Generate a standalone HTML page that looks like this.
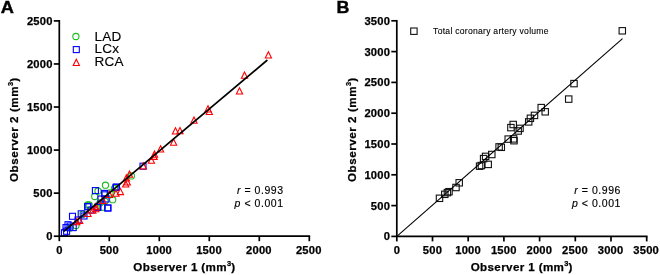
<!DOCTYPE html>
<html lang="en"><head><meta charset="utf-8"><title>Interobserver agreement</title>
<style>
html,body{margin:0;padding:0;background:#fff;}
body{width:660px;height:275px;overflow:hidden;}
svg{display:block;}
text{font-family:'Liberation Sans',Arial,Helvetica,sans-serif;fill:#000;}
.pl{font-size:17.2px;font-weight:bold;stroke:#000;stroke-width:0.4px;}
.tk{font-size:11.2px;font-weight:bold;letter-spacing:0.2px;stroke:#000;stroke-width:0.25px;}
.tt{font-size:11.6px;font-weight:bold;letter-spacing:0.38px;stroke:#000;stroke-width:0.25px;}
.ty{letter-spacing:0.55px;}
.sup{font-size:7.4px;}
.lg{font-size:13.5px;letter-spacing:0.2px;stroke:#000;stroke-width:0.15px;}
.st{font-size:10.5px;letter-spacing:0.55px;stroke:#000;stroke-width:0.15px;}
.lb{font-size:8.6px;letter-spacing:0.26px;stroke:#000;stroke-width:0.1px;}
.m{fill:none;stroke-width:1.1;}
</style></head><body>
<svg width="660" height="275" viewBox="0 0 660 275">
<rect width="660" height="275" fill="#fff"/>
<text transform="translate(0.85 13.3) scale(1.06 1)" class="pl">A</text>
<text transform="translate(336.6 13.1) scale(1.04 1)" class="pl">B</text>
<circle cx="105.5" cy="185.2" r="3.1" class="m" stroke="#1cc01c"/>
<circle cx="131.4" cy="175.9" r="3.1" class="m" stroke="#1cc01c"/>
<circle cx="114.5" cy="188.5" r="3.1" class="m" stroke="#1cc01c"/>
<circle cx="98.0" cy="191.0" r="3.1" class="m" stroke="#1cc01c"/>
<circle cx="94.7" cy="196.5" r="3.1" class="m" stroke="#1cc01c"/>
<circle cx="112.7" cy="199.7" r="3.1" class="m" stroke="#1cc01c"/>
<circle cx="105.0" cy="201.4" r="3.1" class="m" stroke="#1cc01c"/>
<circle cx="87.6" cy="205.0" r="3.1" class="m" stroke="#1cc01c"/>
<circle cx="76.0" cy="225.5" r="3.1" class="m" stroke="#1cc01c"/>
<circle cx="89.2" cy="205.0" r="3.1" class="m" stroke="#1cc01c"/>
<circle cx="102.3" cy="207.3" r="3.1" class="m" stroke="#1cc01c"/>
<circle cx="110.0" cy="193.0" r="3.1" class="m" stroke="#1cc01c"/>
<circle cx="100.0" cy="203.0" r="3.1" class="m" stroke="#1cc01c"/>
<circle cx="83.0" cy="214.0" r="3.1" class="m" stroke="#1cc01c"/>
<circle cx="70.0" cy="228.0" r="3.1" class="m" stroke="#1cc01c"/>
<rect x="140.0" y="163.2" width="6.0" height="6.0" class="m" stroke="#00f" stroke-width="1.1"/>
<rect x="112.9" y="184.4" width="6.0" height="6.0" class="m" stroke="#00f" stroke-width="1.1"/>
<rect x="92.4" y="187.6" width="6.0" height="6.0" class="m" stroke="#00f" stroke-width="1.1"/>
<rect x="101.6" y="190.4" width="6.0" height="6.0" class="m" stroke="#00f" stroke-width="1.1"/>
<rect x="102.0" y="191.8" width="6.0" height="6.0" class="m" stroke="#00f" stroke-width="1.1"/>
<rect x="103.0" y="196.0" width="6.0" height="6.0" class="m" stroke="#00f" stroke-width="1.1"/>
<rect x="105.0" y="205.0" width="6.0" height="6.0" class="m" stroke="#00f" stroke-width="1.1"/>
<rect x="85.0" y="203.8" width="6.0" height="6.0" class="m" stroke="#00f" stroke-width="1.1"/>
<rect x="94.5" y="204.4" width="6.0" height="6.0" class="m" stroke="#00f" stroke-width="1.1"/>
<rect x="113.5" y="184.0" width="6.0" height="6.0" class="m" stroke="#00f" stroke-width="1.1"/>
<rect x="61.5" y="229.7" width="6.0" height="6.0" class="m" stroke="#00f" stroke-width="1.1"/>
<rect x="63.6" y="228.3" width="6.0" height="6.0" class="m" stroke="#00f" stroke-width="1.1"/>
<rect x="63.0" y="224.6" width="6.0" height="6.0" class="m" stroke="#00f" stroke-width="1.1"/>
<rect x="65.0" y="221.7" width="6.0" height="6.0" class="m" stroke="#00f" stroke-width="1.1"/>
<rect x="69.5" y="213.3" width="6.0" height="6.0" class="m" stroke="#00f" stroke-width="1.1"/>
<rect x="70.2" y="224.6" width="6.0" height="6.0" class="m" stroke="#00f" stroke-width="1.1"/>
<rect x="78.2" y="210.8" width="6.0" height="6.0" class="m" stroke="#00f" stroke-width="1.1"/>
<rect x="81.0" y="213.0" width="6.0" height="6.0" class="m" stroke="#00f" stroke-width="1.1"/>
<rect x="84.7" y="203.5" width="6.0" height="6.0" class="m" stroke="#00f" stroke-width="1.1"/>
<rect x="95.0" y="204.0" width="6.0" height="6.0" class="m" stroke="#00f" stroke-width="1.1"/>
<rect x="104.7" y="205.0" width="6.0" height="6.0" class="m" stroke="#00f" stroke-width="1.1"/>
<rect x="75.0" y="217.0" width="6.0" height="6.0" class="m" stroke="#00f" stroke-width="1.1"/>
<rect x="88.0" y="207.0" width="6.0" height="6.0" class="m" stroke="#00f" stroke-width="1.1"/>
<rect x="98.0" y="196.0" width="6.0" height="6.0" class="m" stroke="#00f" stroke-width="1.1"/>
<rect x="67.0" y="223.0" width="6.0" height="6.0" class="m" stroke="#00f" stroke-width="1.1"/>
<path d="M268.4 51.8L271.5 58.0H265.3Z" class="m" stroke="#f00"/>
<path d="M244.5 72.0L247.6 78.2H241.4Z" class="m" stroke="#f00"/>
<path d="M239.5 87.8L242.6 94.0H236.4Z" class="m" stroke="#f00"/>
<path d="M208.0 105.8L211.1 112.0H204.9Z" class="m" stroke="#f00"/>
<path d="M209.3 108.3L212.4 114.5H206.2Z" class="m" stroke="#f00"/>
<path d="M194.0 117.1L197.1 123.3H190.9Z" class="m" stroke="#f00"/>
<path d="M175.5 127.8L178.6 134.0H172.4Z" class="m" stroke="#f00"/>
<path d="M180.0 127.6L183.1 133.8H176.9Z" class="m" stroke="#f00"/>
<path d="M173.6 139.1L176.7 145.3H170.5Z" class="m" stroke="#f00"/>
<path d="M160.6 145.8L163.7 152.0H157.5Z" class="m" stroke="#f00"/>
<path d="M154.5 151.1L157.6 157.3H151.4Z" class="m" stroke="#f00"/>
<path d="M154.1 153.2L157.2 159.4H151.0Z" class="m" stroke="#f00"/>
<path d="M151.4 157.1L154.5 163.3H148.3Z" class="m" stroke="#f00"/>
<path d="M143.3 162.8L146.4 169.0H140.2Z" class="m" stroke="#f00"/>
<path d="M129.5 171.1L132.6 177.3H126.4Z" class="m" stroke="#f00"/>
<path d="M126.4 174.8L129.5 181.0H123.3Z" class="m" stroke="#f00"/>
<path d="M127.3 178.8L130.4 185.0H124.2Z" class="m" stroke="#f00"/>
<path d="M125.7 180.8L128.8 187.0H122.6Z" class="m" stroke="#f00"/>
<path d="M120.4 188.4L123.5 194.6H117.3Z" class="m" stroke="#f00"/>
<path d="M116.0 190.1L119.1 196.3H112.9Z" class="m" stroke="#f00"/>
<path d="M109.5 191.3L112.6 197.5H106.4Z" class="m" stroke="#f00"/>
<path d="M95.8 203.4L98.9 209.6H92.7Z" class="m" stroke="#f00"/>
<path d="M79.7 217.2L82.8 223.4H76.6Z" class="m" stroke="#f00"/>
<path d="M92.8 207.0L95.9 213.2H89.7Z" class="m" stroke="#f00"/>
<path d="M95.7 205.5L98.8 211.7H92.6Z" class="m" stroke="#f00"/>
<path d="M76.8 218.6L79.9 224.8H73.7Z" class="m" stroke="#f00"/>
<path d="M103.0 197.3L106.1 203.5H99.9Z" class="m" stroke="#f00"/>
<path d="M88.0 210.3L91.1 216.5H84.9Z" class="m" stroke="#f00"/>
<path d="M63.7 231.3L267.4 60" stroke="#000" stroke-width="1.7"/>
<path d="M59.3 20.049999999999997V236.2H310.15000000000003" fill="none" stroke="#000" stroke-width="1.7" stroke-linecap="butt" stroke-linejoin="miter"/>
<path d="M59.30 236.2v5" stroke="#000" stroke-width="1.7"/>
<text x="59.40" y="253.65" text-anchor="middle" class="tk">0</text>
<path d="M109.30 236.2v5" stroke="#000" stroke-width="1.7"/>
<text x="109.28" y="253.65" text-anchor="middle" class="tk">500</text>
<path d="M159.30 236.2v5" stroke="#000" stroke-width="1.7"/>
<text x="159.16" y="253.65" text-anchor="middle" class="tk">1000</text>
<path d="M209.30 236.2v5" stroke="#000" stroke-width="1.7"/>
<text x="209.04" y="253.65" text-anchor="middle" class="tk">1500</text>
<path d="M259.30 236.2v5" stroke="#000" stroke-width="1.7"/>
<text x="258.92" y="253.65" text-anchor="middle" class="tk">2000</text>
<path d="M309.30 236.2v5" stroke="#000" stroke-width="1.7"/>
<text x="308.80" y="253.65" text-anchor="middle" class="tk">2500</text>
<path d="M59.3 236.20h-5.5" stroke="#000" stroke-width="1.7"/>
<text x="52.60" y="240.10" text-anchor="end" class="tk">0</text>
<path d="M59.3 193.14h-5.5" stroke="#000" stroke-width="1.7"/>
<text x="52.60" y="197.04" text-anchor="end" class="tk">500</text>
<path d="M59.3 150.08h-5.5" stroke="#000" stroke-width="1.7"/>
<text x="52.60" y="153.98" text-anchor="end" class="tk">1000</text>
<path d="M59.3 107.02h-5.5" stroke="#000" stroke-width="1.7"/>
<text x="52.60" y="110.92" text-anchor="end" class="tk">1500</text>
<path d="M59.3 63.96h-5.5" stroke="#000" stroke-width="1.7"/>
<text x="52.60" y="67.86" text-anchor="end" class="tk">2000</text>
<path d="M59.3 20.90h-5.5" stroke="#000" stroke-width="1.7"/>
<text x="52.60" y="24.80" text-anchor="end" class="tk">2500</text>
<circle cx="75.9" cy="36.5" r="3.1" class="m" stroke="#1cc01c"/>
<rect x="73.3" y="46.6" width="6.0" height="6.0" class="m" stroke="#00f" stroke-width="1.1"/>
<path d="M76.3 59.3L79.4 65.5H73.2Z" class="m" stroke="#f00"/>
<text x="94.6" y="40.7" class="lg">LAD</text>
<text x="94.6" y="53.1" class="lg">LCx</text>
<text x="94.6" y="66.2" class="lg">RCA</text>
<text x="283.6" y="193.8" text-anchor="end" class="st"><tspan font-style="italic">r</tspan> = 0.993</text>
<text x="283.6" y="207.2" text-anchor="end" class="st"><tspan font-style="italic">p</tspan> &lt; 0.001</text>
<text x="184.4" y="271.3" text-anchor="middle" class="tt">Observer 1 (mm<tspan class="sup" dy="-5.2">3</tspan><tspan dy="5.2" dx="-0.3">)</tspan></text>
<text transform="translate(18.2 129.6) rotate(-90)" text-anchor="middle" class="tt ty">Observer 2 (mm<tspan class="sup" dy="-5.2">3</tspan><tspan dy="5.2" dx="-0.3">)</tspan></text>
<rect x="619.1" y="27.6" width="6.4" height="6.4" class="m" stroke="#111" stroke-width="1.05"/>
<rect x="570.8" y="80.4" width="6.4" height="6.4" class="m" stroke="#111" stroke-width="1.05"/>
<rect x="565.5" y="95.9" width="6.4" height="6.4" class="m" stroke="#111" stroke-width="1.05"/>
<rect x="538.0" y="104.4" width="6.4" height="6.4" class="m" stroke="#111" stroke-width="1.05"/>
<rect x="542.0" y="108.6" width="6.4" height="6.4" class="m" stroke="#111" stroke-width="1.05"/>
<rect x="531.3" y="112.2" width="6.4" height="6.4" class="m" stroke="#111" stroke-width="1.05"/>
<rect x="527.2" y="115.1" width="6.4" height="6.4" class="m" stroke="#111" stroke-width="1.05"/>
<rect x="525.5" y="118.7" width="6.4" height="6.4" class="m" stroke="#111" stroke-width="1.05"/>
<rect x="510.0" y="121.3" width="6.4" height="6.4" class="m" stroke="#111" stroke-width="1.05"/>
<rect x="507.7" y="124.4" width="6.4" height="6.4" class="m" stroke="#111" stroke-width="1.05"/>
<rect x="516.8" y="125.2" width="6.4" height="6.4" class="m" stroke="#111" stroke-width="1.05"/>
<rect x="515.0" y="127.8" width="6.4" height="6.4" class="m" stroke="#111" stroke-width="1.05"/>
<rect x="510.4" y="135.7" width="6.4" height="6.4" class="m" stroke="#111" stroke-width="1.05"/>
<rect x="505.0" y="135.9" width="6.4" height="6.4" class="m" stroke="#111" stroke-width="1.05"/>
<rect x="510.8" y="137.5" width="6.4" height="6.4" class="m" stroke="#111" stroke-width="1.05"/>
<rect x="495.9" y="143.7" width="6.4" height="6.4" class="m" stroke="#111" stroke-width="1.05"/>
<rect x="498.1" y="144.1" width="6.4" height="6.4" class="m" stroke="#111" stroke-width="1.05"/>
<rect x="488.6" y="151.3" width="6.4" height="6.4" class="m" stroke="#111" stroke-width="1.05"/>
<rect x="482.4" y="153.2" width="6.4" height="6.4" class="m" stroke="#111" stroke-width="1.05"/>
<rect x="480.4" y="155.4" width="6.4" height="6.4" class="m" stroke="#111" stroke-width="1.05"/>
<rect x="485.0" y="161.2" width="6.4" height="6.4" class="m" stroke="#111" stroke-width="1.05"/>
<rect x="478.2" y="162.3" width="6.4" height="6.4" class="m" stroke="#111" stroke-width="1.05"/>
<rect x="476.4" y="163.0" width="6.4" height="6.4" class="m" stroke="#111" stroke-width="1.05"/>
<rect x="456.0" y="179.6" width="6.4" height="6.4" class="m" stroke="#111" stroke-width="1.05"/>
<rect x="452.8" y="184.3" width="6.4" height="6.4" class="m" stroke="#111" stroke-width="1.05"/>
<rect x="445.8" y="188.5" width="6.4" height="6.4" class="m" stroke="#111" stroke-width="1.05"/>
<rect x="444.2" y="189.4" width="6.4" height="6.4" class="m" stroke="#111" stroke-width="1.05"/>
<rect x="441.6" y="191.1" width="6.4" height="6.4" class="m" stroke="#111" stroke-width="1.05"/>
<rect x="436.3" y="195.1" width="6.4" height="6.4" class="m" stroke="#111" stroke-width="1.05"/>
<path d="M396.8 236.4L622.5 38.7" stroke="#000" stroke-width="1.1"/>
<path d="M396.8 19.95V236.4H647.5500000000001" fill="none" stroke="#000" stroke-width="1.7" stroke-linecap="butt" stroke-linejoin="miter"/>
<path d="M396.80 236.4v5" stroke="#000" stroke-width="1.7"/>
<text x="396.90" y="253.85" text-anchor="middle" class="tk">0</text>
<path d="M432.50 236.4v5" stroke="#000" stroke-width="1.7"/>
<text x="432.51" y="253.85" text-anchor="middle" class="tk">500</text>
<path d="M468.20 236.4v5" stroke="#000" stroke-width="1.7"/>
<text x="468.13" y="253.85" text-anchor="middle" class="tk">1000</text>
<path d="M503.90 236.4v5" stroke="#000" stroke-width="1.7"/>
<text x="503.74" y="253.85" text-anchor="middle" class="tk">1500</text>
<path d="M539.60 236.4v5" stroke="#000" stroke-width="1.7"/>
<text x="539.36" y="253.85" text-anchor="middle" class="tk">2000</text>
<path d="M575.30 236.4v5" stroke="#000" stroke-width="1.7"/>
<text x="574.97" y="253.85" text-anchor="middle" class="tk">2500</text>
<path d="M611.00 236.4v5" stroke="#000" stroke-width="1.7"/>
<text x="610.59" y="253.85" text-anchor="middle" class="tk">3000</text>
<path d="M646.70 236.4v5" stroke="#000" stroke-width="1.7"/>
<text x="646.20" y="253.85" text-anchor="middle" class="tk">3500</text>
<path d="M396.8 236.40h-5.5" stroke="#000" stroke-width="1.7"/>
<text x="390.10" y="240.30" text-anchor="end" class="tk">0</text>
<path d="M396.8 205.60h-5.5" stroke="#000" stroke-width="1.7"/>
<text x="390.10" y="209.50" text-anchor="end" class="tk">500</text>
<path d="M396.8 174.80h-5.5" stroke="#000" stroke-width="1.7"/>
<text x="390.10" y="178.70" text-anchor="end" class="tk">1000</text>
<path d="M396.8 144.00h-5.5" stroke="#000" stroke-width="1.7"/>
<text x="390.10" y="147.90" text-anchor="end" class="tk">1500</text>
<path d="M396.8 113.20h-5.5" stroke="#000" stroke-width="1.7"/>
<text x="390.10" y="117.10" text-anchor="end" class="tk">2000</text>
<path d="M396.8 82.40h-5.5" stroke="#000" stroke-width="1.7"/>
<text x="390.10" y="86.30" text-anchor="end" class="tk">2500</text>
<path d="M396.8 51.60h-5.5" stroke="#000" stroke-width="1.7"/>
<text x="390.10" y="55.50" text-anchor="end" class="tk">3000</text>
<path d="M396.8 20.80h-5.5" stroke="#000" stroke-width="1.7"/>
<text x="390.10" y="24.70" text-anchor="end" class="tk">3500</text>
<rect x="410.7" y="28.0" width="6.4" height="6.4" class="m" stroke="#111" stroke-width="1.05"/>
<text x="433.1" y="34.25" class="lb">Total coronary artery volume</text>
<text x="621.0" y="193.8" text-anchor="end" class="st"><tspan font-style="italic">r</tspan> = 0.996</text>
<text x="621.0" y="207.2" text-anchor="end" class="st"><tspan font-style="italic">p</tspan> &lt; 0.001</text>
<text x="521.7" y="271.3" text-anchor="middle" class="tt">Observer 1 (mm<tspan class="sup" dy="-5.2">3</tspan><tspan dy="5.2" dx="-0.3">)</tspan></text>
<text transform="translate(356.2 129.6) rotate(-90)" text-anchor="middle" class="tt ty">Observer 2 (mm<tspan class="sup" dy="-5.2">3</tspan><tspan dy="5.2" dx="-0.3">)</tspan></text>
</svg>
</body></html>
